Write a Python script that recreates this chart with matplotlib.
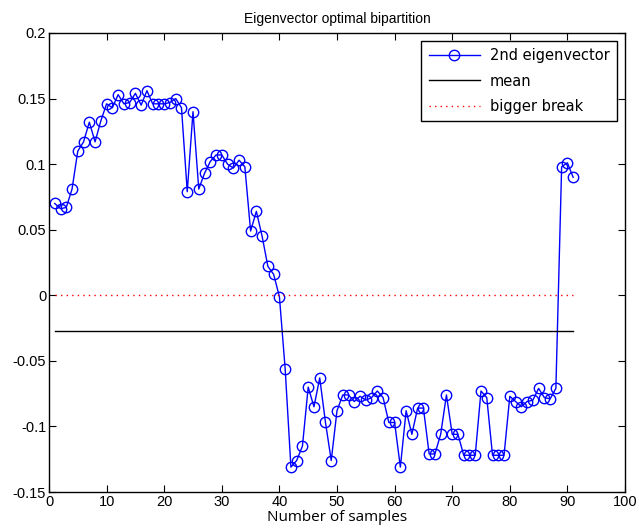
import matplotlib
matplotlib.use('Agg')
import matplotlib.pyplot as plt

# values of the 2nd eigenvector, one per sample
samples = list(range(1, 92))
eigvec2 = [
    0.070, 0.066, 0.067, 0.081, 0.110, 0.117, 0.132, 0.117, 0.133, 0.146,
    0.143, 0.153, 0.146, 0.147, 0.154, 0.145, 0.156, 0.146, 0.146, 0.146,
    0.147, 0.150, 0.143, 0.079, 0.140, 0.081, 0.093, 0.102, 0.107, 0.107,
    0.100, 0.097, 0.103, 0.098, 0.049, 0.064, 0.045, 0.022, 0.016, -0.001,
    -0.056, -0.131, -0.126, -0.115, -0.070, -0.085, -0.063, -0.097, -0.126, -0.088,
    -0.076, -0.076, -0.081, -0.077, -0.080, -0.078, -0.073, -0.078, -0.097, -0.097,
    -0.131, -0.088, -0.106, -0.086, -0.086, -0.121, -0.121, -0.106, -0.076, -0.106,
    -0.106, -0.122, -0.122, -0.122, -0.073, -0.078, -0.122, -0.122, -0.122, -0.077,
    -0.081, -0.085, -0.081, -0.080, -0.071, -0.078, -0.079, -0.071, 0.098, 0.101,
    0.090,
]
mean_level = -0.0275
break_level = 0.0

xticks = list(range(0, 101, 10))
yticks = [-0.15, -0.1, -0.05, 0, 0.05, 0.1, 0.15, 0.2]
ytick_labels = ['-0.15', '-0.1', '-0.05', '0', '0.05', '0.1', '0.15', '0.2']

plt.rcParams['font.family'] = ['Liberation Sans', 'DejaVu Sans']

fig = plt.figure(figsize=(6.39, 5.31), dpi=100)
ax = fig.add_axes([49 / 639, 1 - 492 / 531, 576 / 639, 459 / 531])

ax.plot(samples, eigvec2, color='b', lw=1, marker='o', ms=7.5,
        mfc='none', mec='b', mew=1, label='2nd eigenvector')
ax.plot([samples[0], samples[-1]], [mean_level, mean_level], color='k', lw=1, label='mean')
ax.plot([samples[0], samples[-1]], [break_level, break_level], color='r', lw=1,
        ls=(0, (1, 3)), label='bigger break')

ax.set_xlim(0, 100)
ax.set_ylim(-0.15, 0.2)
ax.set_xticks(xticks)
ax.set_xticklabels([str(t) for t in xticks], fontsize=10.5)
ax.set_yticks(yticks)
ax.set_yticklabels(ytick_labels, fontsize=10.5)
ax.tick_params(direction='in', length=5, top=True, right=True, pad=2)
for s in ax.spines.values():
    s.set_linewidth(1)

ax.set_title('Eigenvector optimal bipartition', fontsize=10, pad=7)
ax.set_xlabel('Number of samples', fontsize=11, family=['Open Sans', 'DejaVu Sans'], labelpad=1)

leg = ax.legend(loc='upper right', prop={'family': 'DejaVu Sans', 'size': 10.5},
                frameon=True, fancybox=False, edgecolor='k', framealpha=1,
                borderaxespad=0.55, handlelength=3.5, handletextpad=0.7,
                labelspacing=0.7, borderpad=0.5)
leg.get_frame().set_linewidth(1)

fig.savefig('out.png', dpi=100)
